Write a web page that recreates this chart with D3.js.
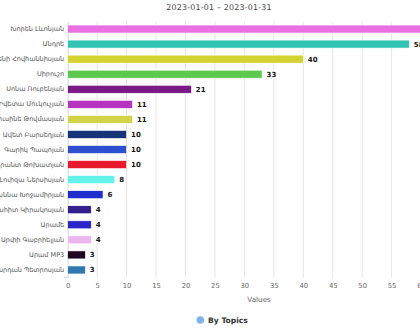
<!DOCTYPE html>
<html>
<head>
<meta charset="utf-8">
<script src="https://cdn.jsdelivr.net/npm/d3@7/dist/d3.min.js"></script>
<style>
  html, body { margin: 0; padding: 0; background: #fff; overflow: hidden; }
  svg { display: block; font-family: "DejaVu Sans", sans-serif; }
</style>
</head>
<body>
<svg id="chart" width="420" height="330"></svg>
<script>
// Topic counts for the period
const titleText = "2023-01-01 – 2023-01-31";
const categories = [
  "Խորեն Լևոնյան", "Անդրե", "Եվգենի Հովհաննիսյան", "Սիրուշո", "Սոնա Ռուբենյան",
  "Իվետա Մուկուչյան", "Լուսինե Թովմասյան", "Ավետ Բարսեղյան", "Գարիկ Պապոյան",
  "Հրանտ Թոխատյան", "Լուիզա Ներսիսյան", "Մարիաննա Խոջամիրյան", "Անահիտ Կիրակոսյան",
  "Արամե", "Արփի Գաբրիելյան", "Արամ MP3", "Վարդան Պետրոսյան"
];
const values = [63, 58, 40, 33, 21, 11, 11, 10, 10, 10, 8, 6, 4, 4, 4, 3, 3];
const colors = [
  "#e96fe3", "#33c3b4", "#d3d331", "#5cc84e", "#7a1a85",
  "#b734c1", "#d3d34a", "#183479", "#2f4fd1", "#e8192e",
  "#63f2e9", "#1f2fcc", "#34208c", "#2b24c6", "#ecb6ec",
  "#1f0522", "#2f78b0"
];
const xTicks = [0, 5, 10, 15, 20, 25, 30, 35, 40, 45, 50, 55, 60, 65];
const axisTitle = "Values";
const legendLabel = "By Topics";

const svg = d3.select("#chart");
const plot = { left: 67.7, top: 21.5, bottom: 277.5 };

const x = d3.scaleLinear().domain([0, 65]).range([plot.left, 450.5]);
const y = d3.scaleBand()
  .domain(categories)
  .range([plot.top, plot.bottom])
  .paddingInner(0.47)
  .paddingOuter(0.235);

// Title
svg.append("text")
  .attr("x", 219).attr("y", 10)
  .attr("text-anchor", "middle")
  .attr("font-size", 7.9)
  .attr("letter-spacing", 0.2)
  .attr("fill", "#444")
  .text(titleText);

// Vertical grid lines
svg.append("g")
  .selectAll("line")
  .data(xTicks.slice(1))
  .join("line")
  .attr("x1", d => x(d)).attr("x2", d => x(d))
  .attr("y1", plot.top).attr("y2", plot.bottom)
  .attr("stroke", "#e6e6e6").attr("stroke-width", 1);

// Category axis
const yAxis = d3.axisLeft(y).tickSize(0).tickPadding(3.5);
const gy = svg.append("g")
  .attr("transform", `translate(${plot.left},0)`)
  .call(yAxis);
gy.select(".domain").attr("stroke", "#ccd6eb");
gy.selectAll(".tick text")
  .attr("font-size", 6.5)
  .attr("fill", "#555")
  .attr("font-family", "DejaVu Sans, sans-serif");
// small tick at the bottom end of the category axis
svg.append("line")
  .attr("x1", plot.left - 4).attr("x2", plot.left)
  .attr("y1", plot.bottom).attr("y2", plot.bottom)
  .attr("stroke", "#ccd6eb");

// Value axis labels
const xAxis = d3.axisBottom(x).tickValues(xTicks).tickSize(0).tickPadding(6);
const gx = svg.append("g")
  .attr("transform", `translate(0,${plot.bottom})`)
  .call(xAxis);
gx.select(".domain").remove();
gx.selectAll(".tick text")
  .attr("font-size", 6.8)
  .attr("fill", "#666")
  .attr("font-family", "DejaVu Sans, sans-serif");

svg.append("text")
  .attr("x", (x.range()[0] + x.range()[1]) / 2)
  .attr("y", 301.5)
  .attr("text-anchor", "middle")
  .attr("font-size", 7.2)
  .attr("fill", "#666")
  .text(axisTitle);

// Bars
const rows = categories.map((c, i) => ({ name: c, value: values[i], color: colors[i] }));
svg.append("g")
  .selectAll("rect")
  .data(rows)
  .join("rect")
  .attr("x", x(0))
  .attr("y", d => y(d.name))
  .attr("width", d => x(d.value) - x(0))
  .attr("height", y.bandwidth())
  .attr("fill", d => d.color)
  .attr("stroke", "#fff")
  .attr("stroke-width", 0.6);

// Value labels
svg.append("g")
  .selectAll("text")
  .data(rows)
  .join("text")
  .attr("x", d => x(d.value) + 4.5)
  .attr("y", d => y(d.name) + y.bandwidth() / 2)
  .attr("dy", "0.35em")
  .attr("font-size", 7)
  .attr("font-weight", "bold")
  .attr("fill", "#111")
  .attr("stroke", "#fff")
  .attr("stroke-width", 1.6)
  .attr("paint-order", "stroke")
  .text(d => d.value);

// Legend
svg.append("circle")
  .attr("cx", 200.3).attr("cy", 320)
  .attr("r", 3.8)
  .attr("fill", "#7cb5ec");
svg.append("text")
  .attr("x", 208).attr("y", 320)
  .attr("dy", "0.35em")
  .attr("font-size", 7.6)
  .attr("font-weight", "bold")
  .attr("fill", "#333")
  .text(legendLabel);
</script>
</body>
</html>
